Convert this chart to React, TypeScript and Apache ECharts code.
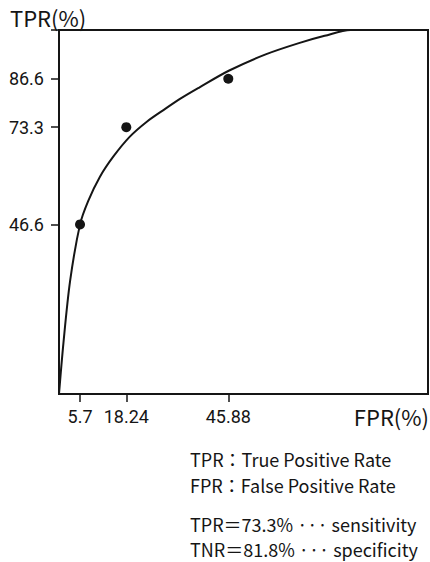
import React, { useEffect, useRef } from "react";
import * as echarts from "echarts";

// ROC curve (FPR %, TPR %)
const curveFpr = [0, 1.2, 3.0, 5.7, 7.9, 11.1, 14.7, 19.2, 23.8, 28.3, 33.0, 38.0, 46.0, 56.0, 65.0, 72.0, 79.0, 100];
const curveTpr = [0, 14.0, 31.0, 46.6, 53.0, 59.7, 65.2, 70.7, 74.8, 78.0, 81.2, 84.2, 88.8, 93.3, 96.4, 98.4, 100, 100];

// measured operating points
const pointFpr = [5.7, 18.24, 45.88];
const pointTpr = [46.6, 73.3, 86.6];

// ticks
const xTickValues = [5.7, 18.24, 45.88];
const yTickValues = [46.6, 73.3, 86.6, 100];
const yLabelValues = [46.6, 73.3, 86.6];

const yAxisTitle = "TPR(%)";
const xAxisTitle = "FPR(%)";
const notes = [
  "TPR：True Positive Rate",
  "FPR：False Positive Rate",
  "TPR＝73.3% ··· sensitivity",
  "TNR＝81.8% ··· specificity",
];

const INK = "#151515";
const TICK_FONT = "Roboto, 'Noto Sans', sans-serif";
const TEXT_FONT = "'Noto Sans CJK JP', 'Noto Sans', sans-serif";

function textEl(text: string, x: number, y: number, size: number, align: string = "left") {
  return {
    type: "text",
    x,
    y,
    silent: true,
    style: {
      text,
      fill: INK,
      font: `${size}px ${TEXT_FONT}`,
      align,
      verticalAlign: "middle",
      textAlign: align,
      textVerticalAlign: "middle",
    },
  };
}

export default function App() {
  const ref = useRef<HTMLDivElement>(null);

  useEffect(() => {
    if (!ref.current) return;
    const chart = echarts.init(ref.current, undefined, { renderer: "svg" });

    const curve = curveFpr.map((x, i) => [x, curveTpr[i]]);
    const points = pointFpr.map((x, i) => [x, pointTpr[i]]);
    const noteY = [459, 485, 524, 549];

    chart.setOption({
      animation: false,
      backgroundColor: "#ffffff",
      grid: {
        left: 59,
        right: 2,
        top: 30,
        bottom: 168,
        show: true,
        borderColor: INK,
        borderWidth: 2,
        backgroundColor: "transparent",
      },
      xAxis: {
        type: "value",
        min: 0,
        max: 100,
        splitLine: { show: false },
        axisLine: { show: true, lineStyle: { color: INK, width: 2 } },
        axisTick: {
          show: true,
          customValues: xTickValues,
          length: 8,
          lineStyle: { color: INK, width: 1.5 },
        },
        axisLabel: {
          customValues: xTickValues,
          margin: 13,
          color: INK,
          fontFamily: TICK_FONT,
          fontSize: 18,
          formatter: (v: number) => String(v),
        },
      },
      yAxis: {
        type: "value",
        min: 0,
        max: 100,
        splitLine: { show: false },
        axisLine: { show: true, lineStyle: { color: INK, width: 2 } },
        axisTick: {
          show: true,
          customValues: yTickValues,
          length: 8,
          lineStyle: { color: INK, width: 1.5 },
        },
        axisLabel: {
          customValues: yLabelValues,
          margin: 15,
          color: INK,
          fontFamily: TICK_FONT,
          fontSize: 18,
          formatter: (v: number) => String(v),
        },
      },
      series: [
        {
          type: "line",
          data: curve,
          smooth: 0.3,
          showSymbol: false,
          symbol: "none",
          lineStyle: { color: INK, width: 2 },
          z: 3,
        },
        {
          type: "scatter",
          data: points,
          symbol: "circle",
          symbolSize: 10,
          itemStyle: { color: INK, opacity: 1 },
          z: 4,
        },
      ],
      graphic: [
        textEl(yAxisTitle, 10, 17, 22),
        textEl(xAxisTitle, 429, 416, 22, "right"),
        ...notes.map((t, i) => textEl(t, 190, noteY[i], 18)),
      ],
    });

    return () => chart.dispose();
  }, []);

  return (
    <div
      ref={ref}
      style={{ position: "fixed", left: 0, top: 0, width: 430, height: 562, background: "#fff" }}
    />
  );
}
